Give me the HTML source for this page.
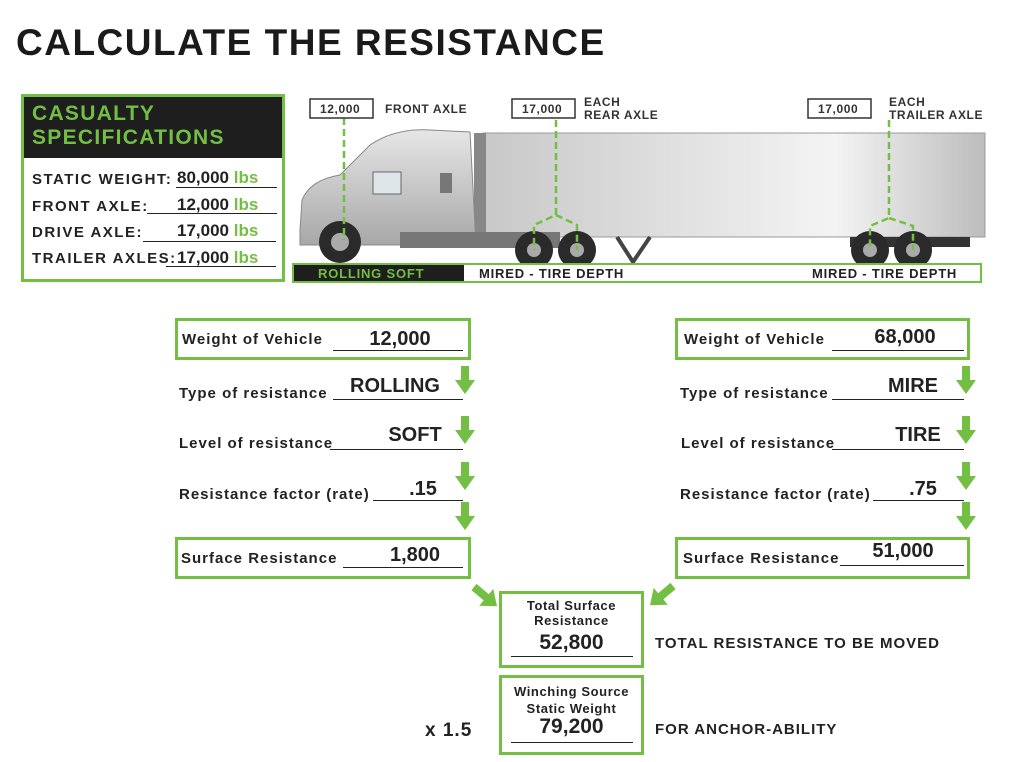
<!DOCTYPE html>
<html><head><style>
body{margin:0;width:1024px;height:762px;background:#fff;position:relative;overflow:hidden;font-family:"Liberation Sans",sans-serif;color:#222;}
.a{position:absolute;}
.b{font-weight:bold;}
.box{position:absolute;border:3px solid #72bf44;box-sizing:border-box;}
.ul{position:absolute;border-bottom:1.5px solid #222;}
.lbl{position:absolute;font-weight:bold;font-size:15px;white-space:nowrap;letter-spacing:1px;}
.sp{letter-spacing:1.5px;}
.val{position:absolute;font-weight:bold;font-size:20px;white-space:nowrap;text-align:center;}
.g{color:#72bf44;}
</style></head><body>
<div class="a b" style="left:16px;top:22px;font-size:37px;letter-spacing:1.5px;color:#1a1a1a;">CALCULATE THE RESISTANCE</div>

<!-- spec box -->
<div class="box" style="left:21px;top:94px;width:264px;height:188px;"></div>
<div class="a" style="left:24px;top:97px;width:258px;height:61px;background:#1e1e1e;"></div>
<div class="a b g" style="left:32px;top:102px;font-size:21px;line-height:24px;letter-spacing:1.3px;">CASUALTY<br>SPECIFICATIONS</div>
<div class="lbl sp" style="left:32px;top:171px;">STATIC WEIGHT:</div>
<div class="lbl" style="left:177px;top:168px;font-size:17px;letter-spacing:0;">80,000 <span class="g">lbs</span></div>
<div class="ul" style="left:176px;top:187px;width:101px;"></div>
<div class="lbl sp" style="left:32px;top:198px;">FRONT AXLE:</div>
<div class="lbl" style="left:177px;top:195px;font-size:17px;letter-spacing:0;">12,000 <span class="g">lbs</span></div>
<div class="ul" style="left:147px;top:213px;width:130px;"></div>
<div class="lbl sp" style="left:32px;top:224px;">DRIVE AXLE:</div>
<div class="lbl" style="left:177px;top:221px;font-size:17px;letter-spacing:0;">17,000 <span class="g">lbs</span></div>
<div class="ul" style="left:143px;top:241px;width:133px;"></div>
<div class="lbl sp" style="left:32px;top:250px;">TRAILER AXLES:</div>
<div class="lbl" style="left:177px;top:248px;font-size:17px;letter-spacing:0;">17,000 <span class="g">lbs</span></div>
<div class="ul" style="left:166px;top:266px;width:110px;"></div>

<!-- truck -->
<svg class="a" style="left:290px;top:90px" width="700" height="200" viewBox="290 90 700 200">
<defs><linearGradient id="tr" x1="0" x2="1"><stop offset="0" stop-color="#c8c8c8"/><stop offset="0.7" stop-color="#f4f4f4"/><stop offset="1" stop-color="#bdbdbd"/></linearGradient>
<linearGradient id="cb" x1="0" y1="0" x2="0" y2="1"><stop offset="0" stop-color="#e6e6e6"/><stop offset="1" stop-color="#a8a8a8"/></linearGradient></defs>
<rect x="483" y="133" width="502" height="104" fill="url(#tr)" stroke="#999"/>
<rect x="474" y="133" width="12" height="110" fill="#888"/>
<path d="M300 230 L302 200 Q310 180 340 175 L370 145 Q395 128 430 130 L470 132 L476 245 L300 245 Z" fill="url(#cb)" stroke="#888"/>
<rect x="373" y="172" width="28" height="22" fill="#dfe6ea" stroke="#666"/>
<rect x="440" y="173" width="12" height="20" fill="#777"/>
<rect x="400" y="232" width="160" height="16" fill="#777"/>
<rect x="850" y="237" width="120" height="10" fill="#333"/>
<path d="M617 237 L633 262 L650 237" fill="none" stroke="#444" stroke-width="4"/>
<g fill="#2a2a2a"><circle cx="340" cy="242" r="21"/><circle cx="534" cy="250" r="19"/><circle cx="577" cy="250" r="19"/><circle cx="870" cy="250" r="19"/><circle cx="913" cy="250" r="19"/></g>
<g fill="#aaa"><circle cx="340" cy="242" r="9"/><circle cx="534" cy="250" r="7"/><circle cx="577" cy="250" r="7"/><circle cx="870" cy="250" r="7"/><circle cx="913" cy="250" r="7"/></g>
<g stroke="#72bf44" stroke-width="2.5" stroke-dasharray="7 4" fill="none">
<path d="M344 118 V240"/><path d="M556 120 V215 L534 225 V250 M556 215 L577 225 V250"/><path d="M889 120 V218 L870 226 V250 M889 218 L913 226 V250"/></g>
<rect x="310" y="99" width="63" height="19" fill="#fff" stroke="#333" stroke-width="1.5"/>
<rect x="512" y="99" width="63" height="19" fill="#fff" stroke="#333" stroke-width="1.5"/>
<rect x="808" y="99" width="63" height="19" fill="#fff" stroke="#333" stroke-width="1.5"/>
<g font-family="Liberation Sans" font-weight="bold" font-size="12" fill="#333" letter-spacing="0.6">
<text x="320" y="113">12,000</text><text x="522" y="113">17,000</text><text x="818" y="113">17,000</text>
<text x="385" y="113">FRONT AXLE</text><text x="584" y="106">EACH</text><text x="584" y="119">REAR AXLE</text>
<text x="889" y="106">EACH</text><text x="889" y="119">TRAILER AXLE</text></g>
<rect x="293" y="264" width="688" height="18" fill="#fff" stroke="#72bf44" stroke-width="2"/>
<rect x="294" y="265" width="170" height="16" fill="#1e1e1e"/>
<g font-family="Liberation Sans" font-weight="bold" font-size="13" letter-spacing="0.8"><text x="318" y="278" fill="#72bf44">ROLLING SOFT</text>
<text x="479" y="278" fill="#222">MIRED - TIRE DEPTH</text><text x="812" y="278" fill="#222">MIRED - TIRE DEPTH</text></g>
</svg>

<!-- left flow -->
<div class="box" style="left:175px;top:318px;width:296px;height:42px;"></div>
<div class="lbl" style="left:182px;top:331px;">Weight of Vehicle</div>
<div class="val" style="left:340px;top:328px;width:120px;">12,000</div>
<div class="ul" style="left:333px;top:350px;width:130px;"></div>
<div class="lbl" style="left:179px;top:385px;">Type of resistance</div>
<div class="val" style="left:335px;top:375px;width:120px;">ROLLING</div>
<div class="ul" style="left:333px;top:399px;width:130px;"></div>
<div class="lbl" style="left:179px;top:435px;">Level of resistance</div>
<div class="val" style="left:355px;top:424px;width:120px;">SOFT</div>
<div class="ul" style="left:330px;top:449px;width:133px;"></div>
<div class="lbl" style="left:179px;top:486px;">Resistance factor (rate)</div>
<div class="val" style="left:363px;top:478px;width:120px;">.15</div>
<div class="ul" style="left:373px;top:500px;width:90px;"></div>
<div class="box" style="left:175px;top:537px;width:296px;height:42px;"></div>
<div class="lbl" style="left:181px;top:550px;">Surface Resistance</div>
<div class="val" style="left:355px;top:544px;width:120px;">1,800</div>
<div class="ul" style="left:343px;top:567px;width:120px;"></div>

<!-- right flow -->
<div class="box" style="left:675px;top:318px;width:295px;height:42px;"></div>
<div class="lbl" style="left:684px;top:331px;">Weight of Vehicle</div>
<div class="val" style="left:845px;top:326px;width:120px;">68,000</div>
<div class="ul" style="left:832px;top:350px;width:132px;"></div>
<div class="lbl" style="left:680px;top:385px;">Type of resistance</div>
<div class="val" style="left:853px;top:375px;width:120px;">MIRE</div>
<div class="ul" style="left:832px;top:399px;width:132px;"></div>
<div class="lbl" style="left:681px;top:435px;">Level of resistance</div>
<div class="val" style="left:858px;top:424px;width:120px;">TIRE</div>
<div class="ul" style="left:832px;top:449px;width:132px;"></div>
<div class="lbl" style="left:680px;top:486px;">Resistance factor (rate)</div>
<div class="val" style="left:863px;top:478px;width:120px;">.75</div>
<div class="ul" style="left:873px;top:500px;width:91px;"></div>
<div class="box" style="left:675px;top:537px;width:295px;height:42px;"></div>
<div class="lbl" style="left:683px;top:550px;">Surface Resistance</div>
<div class="val" style="left:843px;top:540px;width:120px;">51,000</div>
<div class="ul" style="left:840px;top:565px;width:124px;"></div>

<!-- arrows -->
<svg class="a" style="left:0;top:0" width="1024" height="762">
<g fill="#72bf44">
<path id="ar" d="M-4 0 H4 V14 H10 L0 28 L-10 14 H-4 Z" transform="translate(465,366)"/>
<use href="#ar" transform="translate(0,50)"/><use href="#ar" transform="translate(0,96)"/><use href="#ar" transform="translate(0,136)"/>
<use href="#ar" transform="translate(501,0)"/><use href="#ar" transform="translate(501,50)"/><use href="#ar" transform="translate(501,96)"/><use href="#ar" transform="translate(501,136)"/>
<path d="M0 -4 H16 V-11 L30 0 L16 11 V4 H0 Z" transform="translate(474,587) rotate(40)"/>
<path d="M0 -4 H16 V-11 L30 0 L16 11 V4 H0 Z" transform="translate(673,586) rotate(140)"/>
</g></svg>

<!-- center -->
<div class="box" style="left:499px;top:591px;width:145px;height:77px;"></div>
<div class="a b" style="left:499px;top:598px;width:145px;text-align:center;font-size:13px;line-height:15px;letter-spacing:0.6px;">Total Surface<br>Resistance</div>
<div class="val" style="left:499px;top:631px;width:145px;font-size:21px;">52,800</div>
<div class="ul" style="left:511px;top:656px;width:122px;"></div>
<div class="lbl" style="left:655px;top:635px;">TOTAL RESISTANCE TO BE MOVED</div>
<div class="box" style="left:499px;top:675px;width:145px;height:80px;"></div>
<div class="a b" style="left:499px;top:683px;width:145px;text-align:center;font-size:13px;line-height:17px;letter-spacing:0.6px;">Winching Source<br>Static Weight</div>
<div class="val" style="left:499px;top:715px;width:145px;font-size:21px;">79,200</div>
<div class="ul" style="left:511px;top:742px;width:122px;"></div>
<div class="lbl" style="left:425px;top:720px;font-size:19px;">x 1.5</div>
<div class="lbl" style="left:655px;top:721px;">FOR ANCHOR-ABILITY</div>
</body></html>
